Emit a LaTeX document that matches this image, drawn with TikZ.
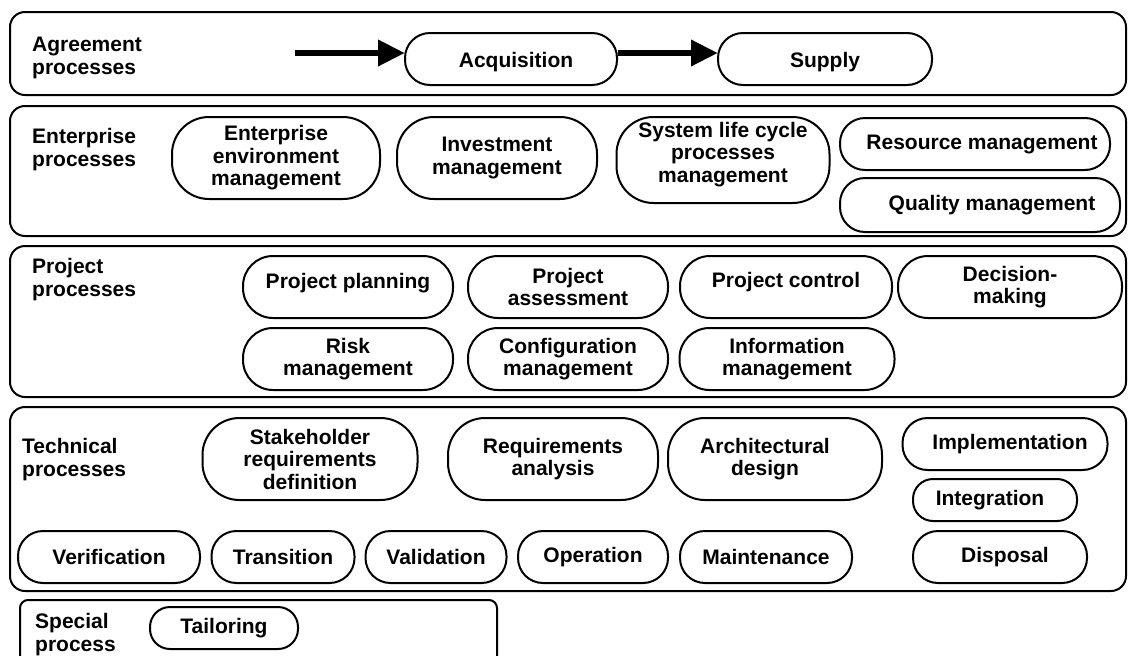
\documentclass[tikz,border=0pt]{standalone}
\usepackage{fontspec}
\setmainfont{Liberation Sans}
\usetikzlibrary{arrows.meta}
\tikzset{
  grp/.style={draw, line width=2pt, rounded corners=15pt},
  lab/.style={anchor=north west, inner sep=0pt, align=left, font=\bfseries\fontsize{21}{23}\selectfont},
  proc/.style={rectangle, rounded corners=25pt, draw, line width=2pt, inner sep=0pt, align=center, font=\bfseries\fontsize{21}{22.5}\selectfont},
  midproc/.style={proc, rounded corners=30pt},
  tallproc/.style={proc, rounded corners=37pt},
  smallproc/.style={proc, rounded corners=20pt},
  bigarrow/.style={line width=6.5pt, -{Triangle[length=27pt,width=25pt]}, shorten >=-1pt}
}
\begin{document}
\begin{tikzpicture}[x=1pt,y=-1pt]
\clip (0,0) rectangle (1133,656);
\fill[white] (0,0) rectangle (1133,656);
% group boxes
\draw[grp] (10,12) rectangle (1126,95);
\draw[grp] (10,106) rectangle (1126,236);
\draw[grp] (10,246) rectangle (1126,397);
\draw[grp] (10,407) rectangle (1126,591);
\draw[grp, rounded corners=8pt] (20,600) rectangle (497,680);
% labels
\node[lab] (lagr) at (32,37) {Agreement\\processes};
\node[lab] (lent) at (32,128) {Enterprise\\processes};
\node[lab] (lprj) at (32,258) {Project\\processes};
\node[lab] (ltec) at (22,438) {Technical\\processes};
\node[lab] (lspc) at (35,613) {Special\\process};
% agreement
\node[proc, minimum width=212pt, minimum height=52pt, text height=21pt, text depth=4pt] (acq) at (511,59) {\hspace*{10pt}Acquisition};
\node[proc, minimum width=214pt, minimum height=52pt, text height=21pt, text depth=4pt] (sup) at (825,59) {Supply};
\coordinate (a0) at (295,53);
\draw[bigarrow] (a0) -- (acq.west |- a0);
\draw[bigarrow] (acq.east |- a0) -- (sup.west |- a0);
% enterprise
\node[tallproc, minimum width=208pt, minimum height=82pt] (eem) at (276,158) {Enterprise\\environment\\management};
\node[tallproc, minimum width=200pt, minimum height=82pt] (inv) at (497,158) {Investment\\management};
\node[tallproc, minimum width=213pt, minimum height=86pt, text depth=16pt] (slc) at (723,160) {System life cycle\\processes\\management};
\node[proc, minimum width=270pt, minimum height=52pt] (res) at (975,144) {\hspace*{14pt}Resource management};
\node[proc, minimum width=280pt, minimum height=54pt] (qua) at (980,205) {\hspace*{24pt}Quality management};
% project
\node[midproc, minimum width=210pt, minimum height=62pt, text depth=12pt] (ppl) at (348,287) {Project planning};
\node[midproc, minimum width=200pt, minimum height=62pt] (pas) at (568,287) {Project\\assessment};
\node[midproc, minimum width=212pt, minimum height=62pt, text depth=14pt] (pct) at (786,287) {Project control};
\node[midproc, minimum width=224pt, minimum height=62pt] (dec) at (1010,287) {Decision-\\making};
\node[midproc, minimum width=210pt, minimum height=62pt] (rsk) at (348,359) {Risk\\management};
\node[midproc, minimum width=200pt, minimum height=62pt] (cfg) at (568,359) {Configuration\\management};
\node[midproc, minimum width=215pt, minimum height=62pt] (inf) at (787,359) {Information\\management};
% technical
\node[tallproc, minimum width=215pt, minimum height=82pt] (stk) at (310,459) {Stakeholder\\requirements\\definition};
\node[tallproc, minimum width=210pt, minimum height=82pt] (req) at (553,459) {Requirements\\analysis};
\node[tallproc, minimum width=214pt, minimum height=82pt] (arc) at (775,459) {Architectural\hspace*{20pt}\\design\hspace*{20pt}};
\node[proc, minimum width=205pt, minimum height=52pt] (imp) at (1005,444) {\hspace*{10pt}Implementation};
\node[smallproc, minimum width=164pt, minimum height=42pt] (itg) at (995,500) {Integration\hspace*{10pt}};
\node[proc, minimum width=174pt, minimum height=52pt] (dsp) at (1000,557) {\hspace*{10pt}Disposal};
\node[proc, minimum width=182pt, minimum height=52pt] (ver) at (109,557) {Verification};
\node[proc, minimum width=143pt, minimum height=52pt] (trn) at (283,557) {Transition};
\node[proc, minimum width=141pt, minimum height=52pt] (val) at (436,557) {Validation};
\node[proc, minimum width=150pt, minimum height=52pt] (opr) at (593,557) {Operation};
\node[proc, minimum width=172pt, minimum height=52pt] (mnt) at (766,557) {Maintenance};
% special
\node[smallproc, minimum width=148pt, minimum height=42pt] (tlr) at (224,628) {Tailoring};
\end{tikzpicture}
\end{document}
